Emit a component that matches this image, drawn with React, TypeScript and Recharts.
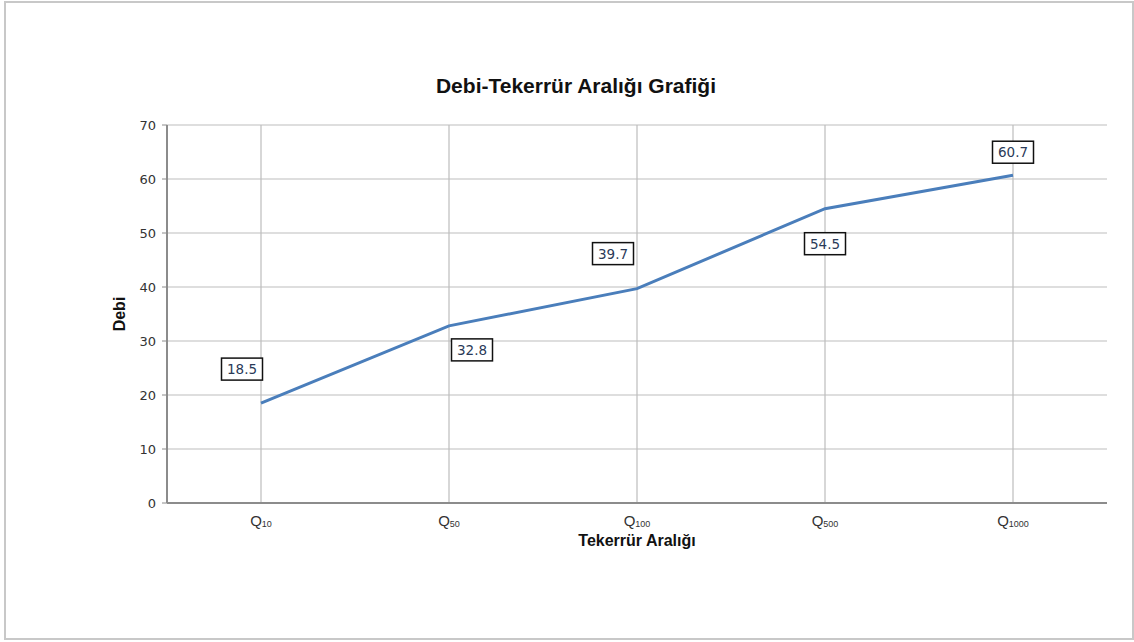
import React from "react"
import { CartesianGrid, LabelList, Line, LineChart, ReferenceLine, XAxis, YAxis } from "recharts"

const periods = ["Q10", "Q50", "Q100", "Q500", "Q1000"]
const debi = [18.5, 32.8, 39.7, 54.5, 60.7]
const yTicks = [0, 10, 20, 30, 40, 50, 60, 70]

const data = periods.map((p, i) => ({ period: p, debi: debi[i] }))

// where each value box sits relative to its point
const labelOffsets = [
  { dx: -19, dy: -34 },
  { dx: 23, dy: 24 },
  { dx: -24, dy: -35 },
  { dx: 0, dy: 35 },
  { dx: 0, dy: -23 },
]

const PeriodTick = (props: any) => {
  const { x, y, payload } = props
  const sub = String(payload.value).slice(1)
  return (
    <text x={x} y={y + 15} textAnchor="middle" fill="#333" fontFamily="Liberation Sans, Arial, sans-serif">
      <tspan fontSize={15}>Q</tspan>
      <tspan fontSize={9} dy={1}>{sub}</tspan>
    </text>
  )
}

const ValueBox = (props: any) => {
  const { x, y, value, index } = props
  const off = labelOffsets[index] || { dx: 0, dy: -20 }
  const cx = x + off.dx
  const cy = y + off.dy
  const w = 41
  const h = 22
  return (
    <g>
      <rect x={cx - w / 2} y={cy - h / 2} width={w} height={h} fill="#fff" stroke="#111" strokeWidth={1.5} />
      <text x={cx} y={cy + 5} textAnchor="middle" fontSize={13.5} fill="#2a3a58" fontFamily="DejaVu Sans, Verdana, sans-serif">
        {value}
      </text>
    </g>
  )
}

export default function App() {
  return (
    <div style={{ position: "absolute", left: 0, top: 0, width: 1134, height: 642, background: "#fff" }}>
      <div
        style={{
          position: "absolute",
          left: 4,
          top: 1,
          width: 1126,
          height: 635,
          border: "2px solid #c8c8c8",
        }}
      />
      <div
        style={{
          position: "absolute",
          left: 0,
          top: 74,
          width: 1152,
          textAlign: "center",
          fontFamily: "Liberation Sans, Arial, sans-serif",
          fontWeight: "bold",
          fontSize: 21,
          color: "#111",
        }}
      >
        Debi-Tekerrür Aralığı Grafiği
      </div>
      <div style={{ position: "absolute", left: 0, top: 0 }}>
        <LineChart width={1134} height={642} data={data} margin={{ top: 125, right: 27, bottom: 109, left: 107 }}>
          <CartesianGrid stroke="#bdbdbd" strokeWidth={1.2} vertical={false} />
          {periods.map((p) => (
            <ReferenceLine key={p} x={p} stroke="#bdbdbd" strokeWidth={1.2} />
          ))}
          <XAxis
            dataKey="period"
            tick={<PeriodTick />}
            tickLine={false}
            axisLine={{ stroke: "#8c8c8c", strokeWidth: 2 }}
            height={30}
            interval={0}
            padding={{ left: 94, right: 94 }}
            label={{
              content: (p: any) => {
                const vb = p.viewBox
                return (
                  <text
                    x={vb.x + vb.width / 2}
                    y={vb.y + 43}
                    textAnchor="middle"
                    fontSize={16}
                    fontWeight="bold"
                    fill="#111"
                    fontFamily="Liberation Sans, Arial, sans-serif"
                  >
                    Tekerrür Aralığı
                  </text>
                )
              },
            }}
          />
          <YAxis
            domain={[0, 70]}
            ticks={yTicks}
            width={60}
            axisLine={{ stroke: "#8c8c8c", strokeWidth: 2 }}
            tickLine={{ stroke: "#8c8c8c" }}
            tickSize={5}
            tick={{ fontSize: 13, fill: "#333", fontFamily: "DejaVu Sans, Verdana, sans-serif", dx: -4 }}
            label={{
              content: (p: any) => {
                const vb = p.viewBox
                const cx = 121
                const cy = vb.y + vb.height / 2
                return (
                  <text
                    x={cx}
                    y={cy}
                    transform={`rotate(-90 ${cx} ${cy})`}
                    textAnchor="middle"
                    dominantBaseline="middle"
                    fontSize={16}
                    fontWeight="bold"
                    fill="#111"
                    fontFamily="Liberation Sans, Arial, sans-serif"
                  >
                    Debi
                  </text>
                )
              },
            }}
          />
          <Line
            type="linear"
            dataKey="debi"
            stroke="#4a7ebb"
            strokeWidth={3}
            dot={false}
            activeDot={false}
            isAnimationActive={false}
          >
            <LabelList dataKey="debi" content={<ValueBox />} />
          </Line>
        </LineChart>
      </div>
    </div>
  )
}
